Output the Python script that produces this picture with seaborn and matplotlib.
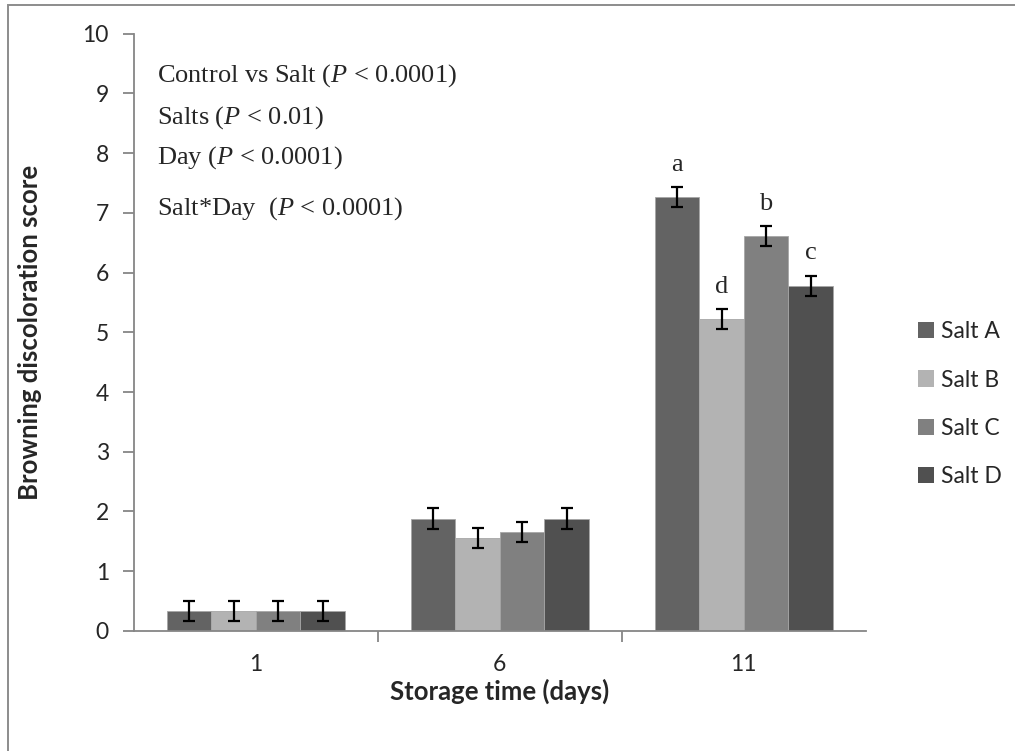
import matplotlib
matplotlib.use("Agg")
import matplotlib.pyplot as plt
import matplotlib.patches as mpatches
import seaborn as sns
import pandas as pd

# data
days = ["1", "6", "11"]
salts = ["Salt A", "Salt B", "Salt C", "Salt D"]
salt_a = [0.33, 1.88, 7.27]
salt_b = [0.33, 1.55, 5.22]
salt_c = [0.33, 1.66, 6.61]
salt_d = [0.33, 1.88, 5.78]
salt_err = [0.17, 0.17, 0.17]
letters_day11 = ["a", "d", "b", "c"]
stats_lines = [
    r"Control vs Salt ($\mathit{P}$ < 0.0001)",
    r"Salts ($\mathit{P}$ < 0.01)",
    r"Day ($\mathit{P}$ < 0.0001)",
    r"Salt*Day  ($\mathit{P}$ < 0.0001)",
]
colors = ["#636363", "#b3b3b3", "#808080", "#505050"]

sns.set_style("white")
plt.rcParams["font.family"] = ["Lato", "DejaVu Sans"]
plt.rcParams["mathtext.fontset"] = "custom"
plt.rcParams["mathtext.rm"] = "Liberation Serif"
plt.rcParams["mathtext.it"] = "Liberation Serif:italic"

values = [salt_a, salt_b, salt_c, salt_d]
rows = []
for s, vals in zip(salts, values):
    for d, v, e in zip(days, vals, salt_err):
        rows.append({"day": d, "salt": s, "score": v, "err": e})
df = pd.DataFrame(rows)

fig = plt.figure(figsize=(10.15, 7.51), dpi=100)
ax = fig.add_axes([0.132, 0.16, 0.721, 0.795])

sns.barplot(data=df, x="day", y="score", hue="salt", order=days, hue_order=salts,
            palette=colors, width=0.73, errorbar=None, saturation=1,
            edgecolor="#a6a6a6", linewidth=0.6, legend=False, ax=ax)

# error bars and letters
for cont, s in zip(ax.containers, salts):
    sub = df[df["salt"] == s]
    for bar, (_, r) in zip(cont.patches, sub.iterrows()):
        cx = bar.get_x() + bar.get_width() / 2
        ax.errorbar(cx, r["score"], yerr=r["err"], fmt="none", ecolor="black",
                    elinewidth=1.6, capsize=4.3, capthick=1.6)
for cont, lab in zip(ax.containers, letters_day11):
    bar = cont.patches[2]
    cx = bar.get_x() + bar.get_width() / 2
    ax.text(cx, bar.get_height() + salt_err[2] + 0.27, lab, ha="center", va="baseline",
            fontsize=19, family="Liberation Serif")

# stats text
for txt, yy in zip(stats_lines, [9.3, 8.6, 7.93, 7.08]):
    ax.text(0.032, yy, txt, transform=ax.get_yaxis_transform(), fontsize=19,
            family="Liberation Serif", va="center", ha="left")

ax.set_ylim(0, 10)
ax.set_xlim(-0.5, 2.5)
ax.set_yticks(range(0, 11))
ax.set_xticks([0.5, 1.5], minor=True)
ax.tick_params(axis="y", which="major", left=True, length=8, width=1.3,
               color="#868686", labelsize=16.5, pad=10)
ax.tick_params(axis="x", which="major", bottom=False, labelsize=16.5, pad=13)
ax.tick_params(axis="x", which="minor", bottom=True, length=8, width=1.3, color="#868686")
for side in ["top", "right"]:
    ax.spines[side].set_visible(False)
for side in ["left", "bottom"]:
    ax.spines[side].set_color("#868686")
    ax.spines[side].set_linewidth(1.3)

ax.set_xlabel("Storage time (days)", fontsize=18.5, fontweight="bold", labelpad=3)
ax.set_ylabel("Browning discoloration score", fontsize=18.5, fontweight="bold", labelpad=29)

handles = [mpatches.Patch(facecolor=c, edgecolor="none") for c in colors]
fig.legend(handles, salts, loc="center left", bbox_to_anchor=(0.884, 0.462),
           frameon=False, fontsize=16.5, handlelength=0.7, handleheight=0.7,
           handletextpad=0.3, labelspacing=1.18)

# outer frame like the exported chart area
frame = mpatches.Rectangle((8 / 1015, -0.1), 1.2, (751 - 5) / 751 + 0.1,
                           transform=fig.transFigure, fill=False,
                           edgecolor="#8c8c8c", linewidth=1.4)
fig.add_artist(frame)

fig.savefig("out.png", dpi=100)
